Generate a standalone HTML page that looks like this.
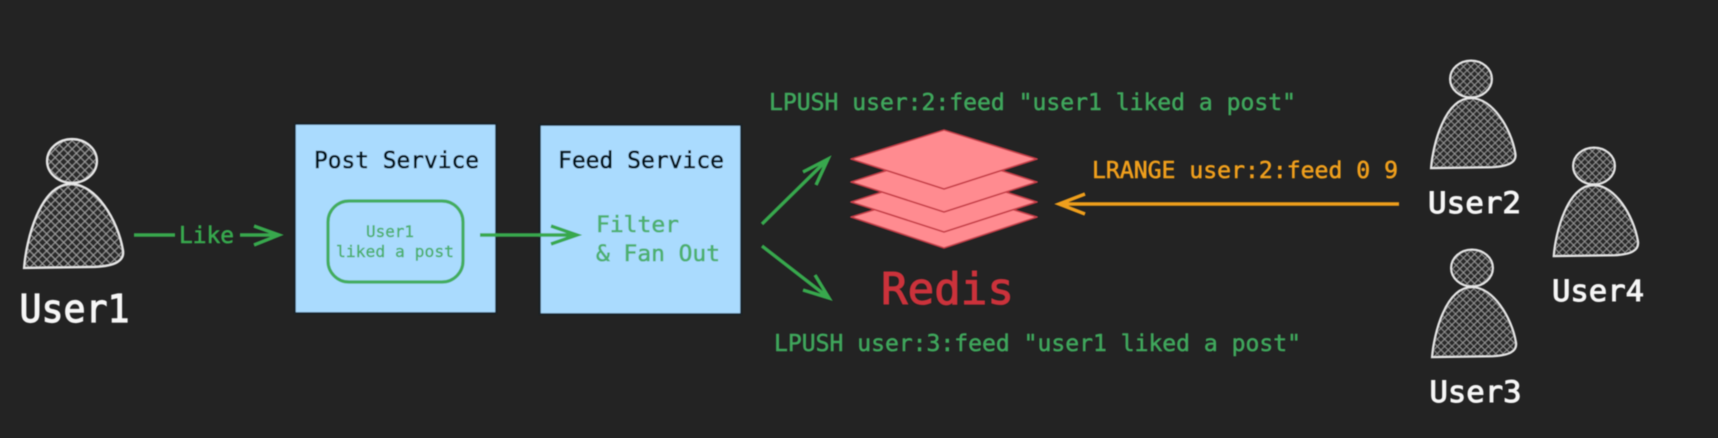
<!DOCTYPE html>
<html>
<head>
<meta charset="utf-8">
<style>
html,body{margin:0;padding:0;background:#232323;width:1718px;height:438px;overflow:hidden}
svg{display:block}
text{font-family:"DejaVu Sans Mono","Liberation Mono",monospace}
</style>
</head>
<body>
<svg width="1718" height="438" viewBox="0 0 1718 438" xmlns="http://www.w3.org/2000/svg">
<defs>
<pattern id="hb" width="6" height="6" patternUnits="userSpaceOnUse" patternTransform="rotate(45)">
<rect width="6" height="6" fill="#2a2a2a"/>
<path d="M0 0H6M0 0V6" stroke="#b4b4b4" stroke-width="1.5"/>
</pattern>
<pattern id="hs" width="5.2" height="5.2" patternUnits="userSpaceOnUse" patternTransform="rotate(45)">
<rect width="5.2" height="5.2" fill="#2a2a2a"/>
<path d="M0 0H5.2M0 0V5.2" stroke="#b4b4b4" stroke-width="1.3"/>
</pattern>
<pattern id="hsb" width="6.1" height="6.1" patternUnits="userSpaceOnUse" patternTransform="rotate(45)">
<rect width="6.1" height="6.1" fill="#2a2a2a"/>
<path d="M0 0H6.1M0 0V6.1" stroke="#b4b4b4" stroke-width="1.5"/>
</pattern>
<path id="body" d="M24 268C26 240 40 184 71 184C96 184 118 220 123 250C125 261 115 266 95 267L24 268Z"/>
<filter id="soft" x="-5%" y="-5%" width="110%" height="110%"><feGaussianBlur stdDeviation="0.5"/></filter>
</defs>
<rect width="1718" height="438" fill="#232323"/>
<g filter="url(#soft)">
<!-- User1 -->
<ellipse cx="72" cy="161" rx="25" ry="22" fill="url(#hb)" stroke="#e8e8e8" stroke-width="2.2"/>
<use href="#body" fill="url(#hb)" stroke="#e8e8e8" stroke-width="2.2"/>
<text x="19.5" y="322" font-size="38" fill="#f6f6f6" stroke="#f6f6f6" stroke-width="1.2" textLength="110" lengthAdjust="spacingAndGlyphs">User1</text>

<!-- Like arrow -->
<path d="M134 235H175M240 235H279M254 226L279 235L254 245" fill="none" stroke="#37a84e" stroke-width="3.4"/>
<text x="179" y="243" font-size="23" fill="#37a84e" stroke="#37a84e" stroke-width=".6" textLength="55" lengthAdjust="spacingAndGlyphs">Like</text>

<!-- Post Service -->
<rect x="295" y="124" width="201" height="189" fill="#aadbfe" stroke="#16222c" stroke-width="1.5"/>
<text x="314" y="168" font-size="23.3" fill="#06121f" stroke="#06121f" stroke-width=".6" textLength="165" lengthAdjust="spacingAndGlyphs">Post Service</text>
<rect x="328" y="201" width="135" height="81" rx="21" fill="none" stroke="#43ad5e" stroke-width="3.2"/>
<text x="366" y="237" font-size="16" fill="#4db070" stroke="#4db070" stroke-width=".4" textLength="48" lengthAdjust="spacingAndGlyphs">User1</text>
<text x="336" y="257" font-size="16" fill="#4db070" stroke="#4db070" stroke-width=".4" textLength="118" lengthAdjust="spacingAndGlyphs">liked a post</text>

<!-- Feed Service -->
<rect x="540" y="125" width="201" height="189" fill="#aadbfe" stroke="#16222c" stroke-width="1.5"/>
<text x="558" y="168" font-size="23" fill="#06121f" stroke="#06121f" stroke-width=".6" textLength="166" lengthAdjust="spacingAndGlyphs">Feed Service</text>
<text x="596" y="232" font-size="22" fill="#4db070" stroke="#4db070" stroke-width=".6" textLength="83" lengthAdjust="spacingAndGlyphs">Filter</text>
<text x="596" y="261" font-size="22" fill="#4db070" stroke="#4db070" stroke-width=".6" textLength="124" lengthAdjust="spacingAndGlyphs">&amp; Fan Out</text>

<!-- Post to feed arrow -->
<path d="M480 235H577M551 226L577 235L551 244" fill="none" stroke="#37a84e" stroke-width="3.4"/>

<!-- Fan out arrows -->
<path d="M762 224L828 159M803 172L828 159L816 185" fill="none" stroke="#37a84e" stroke-width="3.4"/>
<path d="M762 246L829 298M803 290L829 298L815 275" fill="none" stroke="#37a84e" stroke-width="3.4"/>

<!-- Redis -->
<g fill="#ff8b90" stroke="#c63c47" stroke-width="1.6" stroke-linejoin="round">
<path d="M851 217L944 188L1037 217L944 248Z"/>
<path d="M851 202L944 172L1037 202L944 232Z"/>
<path d="M851 182L944 152L1037 182L944 212Z"/>
<path d="M851 159L944 130L1037 159L944 189Z"/>
</g>
<text x="881" y="304" font-size="44" fill="#cb333b" stroke="#cb333b" stroke-width="1.1" textLength="133" lengthAdjust="spacingAndGlyphs">Redis</text>

<!-- Commands -->
<text x="769" y="110" font-size="23" fill="#3fa65c" stroke="#3fa65c" stroke-width=".55" textLength="527" lengthAdjust="spacingAndGlyphs">LPUSH user:2:feed "user1 liked a post"</text>
<text x="774" y="351" font-size="23" fill="#3fa65c" stroke="#3fa65c" stroke-width=".55" textLength="527" lengthAdjust="spacingAndGlyphs">LPUSH user:3:feed "user1 liked a post"</text>
<text x="1092" y="178" font-size="23.5" fill="#ef9f1c" stroke="#ef9f1c" stroke-width=".6" textLength="306" lengthAdjust="spacingAndGlyphs">LRANGE user:2:feed 0 9</text>

<!-- Orange arrow -->
<path d="M1399 204H1059M1085 194L1059 204L1085 214" fill="none" stroke="#ef9f1c" stroke-width="3.4"/>

<!-- User2 -->
<ellipse cx="1471" cy="79" rx="21" ry="18.5" fill="url(#hs)" stroke="#e8e8e8" stroke-width="2"/>
<g transform="translate(1410.5 -55.6) scale(.853 .835)">
<use href="#body" fill="url(#hsb)" stroke="#e8e8e8" stroke-width="2.4"/>
</g>
<text x="1428" y="213" font-size="29" fill="#f6f6f6" stroke="#f6f6f6" stroke-width="1" textLength="93" lengthAdjust="spacingAndGlyphs">User2</text>

<!-- User4 -->
<ellipse cx="1594" cy="166" rx="21" ry="18.5" fill="url(#hs)" stroke="#e8e8e8" stroke-width="2"/>
<g transform="translate(1533.2 29.2) scale(.852 .847)">
<use href="#body" fill="url(#hsb)" stroke="#e8e8e8" stroke-width="2.4"/>
</g>
<text x="1552" y="301" font-size="29" fill="#f6f6f6" stroke="#f6f6f6" stroke-width="1" textLength="92" lengthAdjust="spacingAndGlyphs">User4</text>

<!-- User3 -->
<ellipse cx="1472" cy="268" rx="21" ry="18.5" fill="url(#hs)" stroke="#e8e8e8" stroke-width="2"/>
<g transform="translate(1411.6 133.4) scale(.849 .835)">
<use href="#body" fill="url(#hsb)" stroke="#e8e8e8" stroke-width="2.4"/>
</g>
<text x="1429.5" y="402" font-size="29" fill="#f6f6f6" stroke="#f6f6f6" stroke-width="1" textLength="92" lengthAdjust="spacingAndGlyphs">User3</text>
</g>
</svg>
</body>
</html>
